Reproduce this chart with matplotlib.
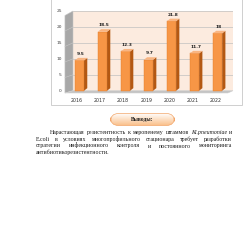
import matplotlib
matplotlib.use('Agg')
import matplotlib.pyplot as plt
import numpy as np
from matplotlib.patches import Polygon, Rectangle, FancyBboxPatch

# Data
years = ['2016', '2017', '2018', '2019', '2020', '2021', '2022']
values = [9.5, 18.5, 12.3, 9.7, 21.8, 11.7, 18]
value_labels = ['9.5', '18.5', '12.3', '9.7', '21.8', '11.7', '18']
yticks = [0, 5, 10, 15, 20, 25]

title_box = 'Выводы:'
para_lines = [
    [('Нарастающая', 0), ('резистентность', 0), ('к', 0), ('меропенему', 0), ('штаммов', 0), ('Kl.pneumoniae', 1), ('и', 0)],
    [('E.coli', 0), ('в', 0), ('условиях', 0), ('многопрофильного', 0), ('стационара', 0), ('требует', 0), ('разработки', 0)],
    [('стратегии', 0), ('инфекционного', 0), ('контроля', 0), ('и', 0), ('постоянного', 0), ('мониторинга', 0)],
    [('антибиотикорезистентности.', 0)],
]

W, H = 250, 250
fig = plt.figure(figsize=(2.5, 2.5), dpi=100)
fig.patch.set_facecolor('white')

# outer chart frame
frame = Rectangle((51 / W, 1 - 105 / H), 191 / W, 110 / H, transform=fig.transFigure,
                  fc='white', ec='#C8C8C8', lw=0.6, zorder=-5)
fig.add_artist(frame)

# main axes = back wall
ax = fig.add_axes([73 / W, 1 - 90.7 / H, 160 / W, 79.7 / H])
ax.set_zorder(2)
x = np.arange(len(years))
ax.set_xlim(-0.28, 6.67)
ax.set_ylim(0, 25)
ax.set_facecolor('#FCEBDF')
for s in ax.spines.values():
    s.set_visible(False)
ax.set_yticks(yticks)
ax.set_yticklabels([str(t) for t in yticks], fontsize=3.2, color='#404040')
ax.tick_params(axis='y', length=0, pad=8)
ax.set_xticks(x - 0.1)
ax.set_xticklabels(years, fontsize=3.4, color='#303030')
ax.tick_params(axis='x', length=0, pad=5)
for t in yticks[1:]:
    ax.axhline(t, color='#C0C0C0', lw=0.5, zorder=1)

# left wall and floor
x0, x1 = -0.28, 6.67
dxw, dyw = 0.35, 0.72
lw_poly = Polygon([(x0 - dxw, -dyw), (x0, 0), (x0, 25), (x0 - dxw, 25 - 1.4)], closed=True,
                  fc='#A8A8A8', ec='#C8C8C8', lw=0.4, clip_on=False, zorder=2)
ax.add_patch(lw_poly)
for t in yticks[1:-1]:
    ax.plot([x0 - dxw, x0], [t - 1.4 * t / 25 - dyw * (1 - t / 25), t], color='#C8C8C8', lw=0.4,
            clip_on=False, zorder=2)
floor = Polygon([(x0, 0), (x1, 0), (x1 - 0.22, -dyw), (x0 - dxw, -dyw)], closed=True,
                fc='#C4C4C4', ec='#D0D0D0', lw=0.4, clip_on=False, zorder=2)
ax.add_patch(floor)

# 3D-like bars
bw = 0.4
ddx, ddy = 0.14, 0.8
ax.bar(x, values, width=bw, bottom=0, color='#F79646', edgecolor='#E07A28', lw=0.3, zorder=4, clip_on=False)
for xi, v, lab in zip(x, values, value_labels):
    side = Polygon([(xi + bw / 2, 0), (xi + bw / 2 + ddx, ddy), (xi + bw / 2 + ddx, v + ddy), (xi + bw / 2, v)],
                   closed=True, fc='#B45812', ec='none', zorder=4, clip_on=False)
    top = Polygon([(xi - bw / 2, v), (xi + bw / 2, v), (xi + bw / 2 + ddx, v + ddy), (xi - bw / 2 + ddx, v + ddy)],
                  closed=True, fc='#F9B582', ec='none', zorder=4, clip_on=False)
    ax.add_patch(side)
    ax.add_patch(top)
    ax.text(xi + 0.05, v + ddy + 0.6, lab, ha='center', va='bottom', fontsize=3.2,
            fontweight='bold', color='#202020', zorder=5)

# "Выводы:" box with gradient
axb = fig.add_axes([110 / W, 1 - 126 / H, 65 / W, 13 / H])
axb.axis('off')
axb.set_xlim(0, 1)
axb.set_ylim(0, 1)
grad = np.linspace(0, 1, 64).reshape(-1, 1)
c_top = np.array([1.0, 1.0, 1.0])
c_bot = np.array([0.98, 0.74, 0.52])
img = c_top[None, None, :] * (1 - grad[:, :, None]) + c_bot[None, None, :] * grad[:, :, None]
im = axb.imshow(img, extent=[0, 1, 0, 1], aspect='auto', origin='upper')
box = FancyBboxPatch((0.01, 0.04), 0.98, 0.92, boxstyle='round,pad=0,rounding_size=0.12',
                     transform=axb.transAxes, fc='none', ec='#F2A66A', lw=0.5, mutation_aspect=5)
axb.add_patch(box)
im.set_clip_path(box)
axb.text(0.5, 0.5, title_box, ha='center', va='center', fontsize=4, fontweight='bold',
         family='Liberation Serif', color='#202020')

# justified paragraph
fs = 4.2
fig.canvas.draw()
renderer = fig.canvas.get_renderer()
left_first, left_rest, right = 50, 36, 232
line_y = [134, 141, 147.5, 154]
for li, (words, ly) in enumerate(zip(para_lines, line_y)):
    left = left_first if li == 0 else left_rest
    widths = []
    txts = []
    for w, it in words:
        t = fig.text(0, 0, w, fontsize=fs, family='Liberation Serif',
                     style='italic' if it else 'normal', color='#1A1A1A', va='baseline', ha='left')
        widths.append(t.get_window_extent(renderer).width)
        txts.append(t)
    if li < len(para_lines) - 1 and len(words) > 1:
        gap = max(1.2, (right - left - sum(widths)) / (len(words) - 1))
    else:
        gap = 2.0
    xpos = left
    for t, wd in zip(txts, widths):
        t.set_position((xpos / W, 1 - ly / H))
        xpos += wd + gap

fig.savefig('out.png', dpi=100)
